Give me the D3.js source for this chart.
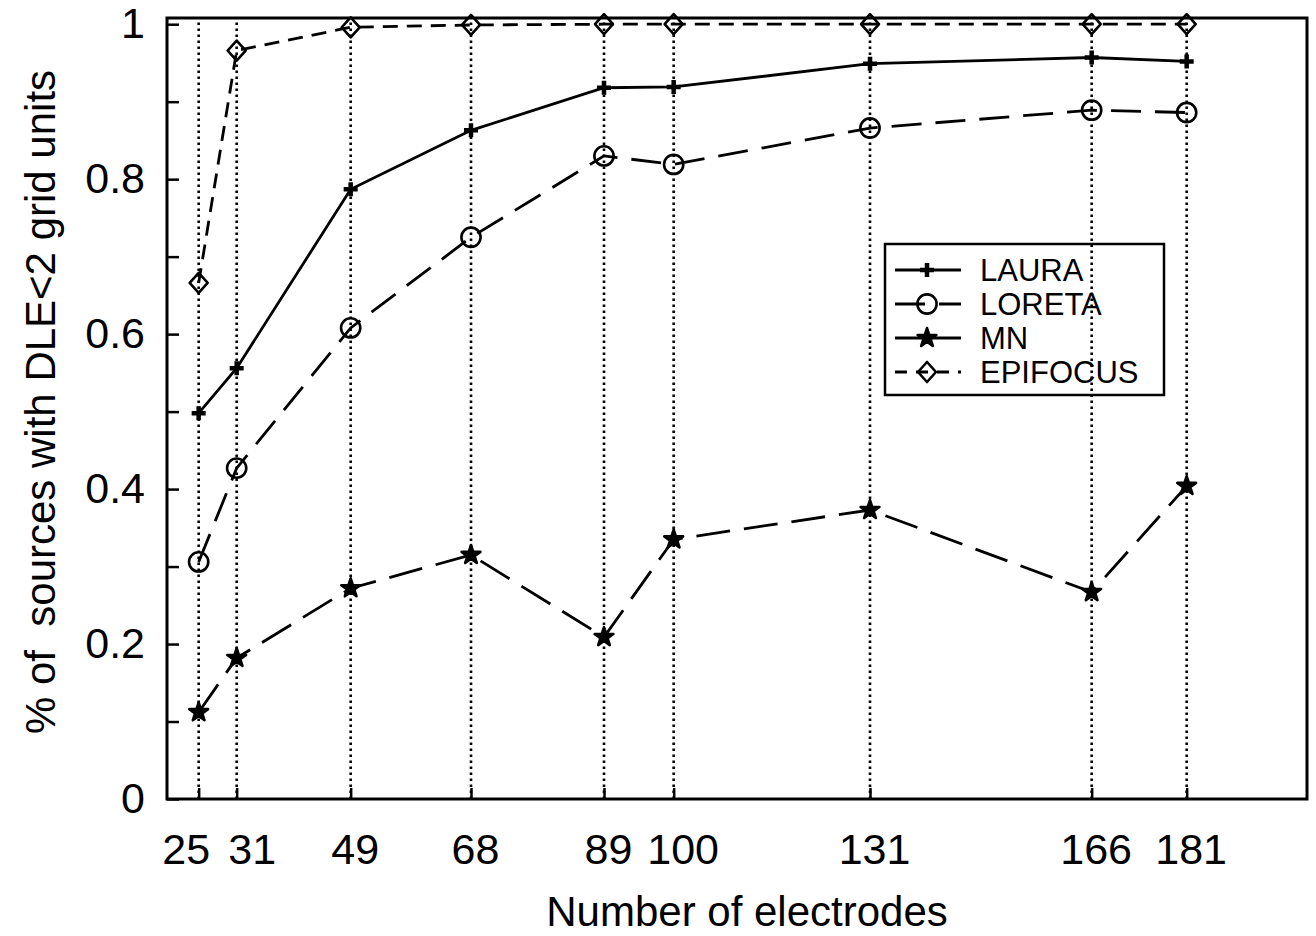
<!DOCTYPE html>
<html>
<head>
<meta charset="utf-8">
<script src="https://cdn.jsdelivr.net/npm/d3@7"></script>
<style>
    body { margin: 0; background: #fff; }
    svg { display: block; font-family: "Liberation Sans", Arial, sans-serif; }
</style>
</head>
<body>
<div id="chart"></div>
<script>
// values
const electrodes = [25, 31, 49, 68, 89, 100, 131, 166, 181];
const laura = [0.498, 0.556, 0.787, 0.863, 0.918, 0.919, 0.949, 0.957, 0.952];
const loreta = [0.306, 0.427, 0.608, 0.725, 0.830, 0.819, 0.866, 0.889, 0.886];
const mn = [0.112, 0.182, 0.272, 0.315, 0.209, 0.335, 0.373, 0.267, 0.404];
const epifocus = [0.666, 0.966, 0.996, 0.999, 1, 1, 1, 1, 1];
const seriesNames = ["LAURA", "LORETA", "MN", "EPIFOCUS"];
const yTickValues = [0, 0.1, 0.2, 0.3, 0.4, 0.5, 0.6, 0.7, 0.8, 0.9, 1];
const yTickLabels = ["0", "", "0.2", "", "0.4", "", "0.6", "", "0.8", "", "1"];

const size = { width: 1316, height: 936 };
const margin = { top: 18, right: 9, bottom: 137, left: 167 };
const width = size.width - margin.left - margin.right;
const height = size.height - margin.top - margin.bottom;

const xScale = d3.scaleLinear().domain([20, 200]).range([0, width]);
const yScale = d3.scaleLinear().domain([0, 1.008]).range([height, 0]);

const styles = {
    LAURA: { dash: null, marker: "plus" },
    LORETA: { dash: "30,14", marker: "circle" },
    MN: { dash: "34,14", marker: "star" },
    EPIFOCUS: { dash: "15,9", marker: "diamond" }
};
const values = { LAURA: laura, LORETA: loreta, MN: mn, EPIFOCUS: epifocus };

const svg = d3.select("#chart")
    .append("svg")
    .attr("width", size.width)
    .attr("height", size.height);

const g = svg.append("g")
    .attr("transform", `translate(${margin.left}, ${margin.top})`);

// dotted verticals at each electrode count
g.selectAll(".vline")
    .data(electrodes)
    .join("line")
    .attr("class", "vline")
    .attr("x1", (d) => xScale(d))
    .attr("x2", (d) => xScale(d))
    .attr("y1", yScale(0))
    .attr("y2", 0)
    .attr("stroke", "#000")
    .attr("stroke-width", 2.6)
    .attr("stroke-dasharray", "2.6,3.4");

// axes, ticks pointing inward
const xAxis = d3.axisBottom(xScale)
    .tickValues(electrodes)
    .tickSizeInner(-11)
    .tickSizeOuter(0)
    .tickPadding(34)
    .tickFormat(d3.format("d"));

const yAxis = d3.axisLeft(yScale)
    .tickValues(yTickValues)
    .tickSizeInner(-12)
    .tickSizeOuter(0)
    .tickPadding(22)
    .tickFormat((d, i) => yTickLabels[i]);

const xg = g.append("g")
    .attr("class", "x-axis")
    .attr("transform", `translate(0, ${height})`)
    .call(xAxis);

const yg = g.append("g")
    .attr("class", "y-axis")
    .call(yAxis);

[xg, yg].forEach((ax) => {
    ax.select(".domain").remove();
    ax.selectAll(".tick line").attr("stroke", "#000").attr("stroke-width", 2.5);
    ax.selectAll(".tick text")
        .attr("fill", "#000")
        .style("font-size", "43px");
});

// crowded labels at the left are pushed apart, the rest sit a touch right
xg.selectAll(".tick text")
    .attr("dx", (d) => d === 25 ? -13 : d === 31 ? 15 : d === 100 ? 9 : 4);

// frame
g.append("rect")
    .attr("x", 0)
    .attr("y", 0)
    .attr("width", width)
    .attr("height", height)
    .attr("fill", "none")
    .attr("stroke", "#000")
    .attr("stroke-width", 3);

const markerPath = function (type) {
    if (type === "star") return d3.symbol(d3.symbolStar, 110)();
    if (type === "plus") return "M-7,0H7M0,-7V7";
    if (type === "diamond") return "M0,-10L9,0L0,10L-9,0Z";
    return d3.symbol(d3.symbolCircle, 290)();
};

const drawMarker = function (sel, type) {
    sel.append("path")
        .attr("d", markerPath(type))
        .attr("fill", type === "star" ? "#000" : "none")
        .attr("stroke", "#000")
        .attr("stroke-width", type === "plus" ? 4.5 : 2.6)
        .attr("stroke-linejoin", "round");
};

const lineGenerator = d3.line()
    .x((d) => xScale(d[0]))
    .y((d) => yScale(d[1]));

seriesNames.forEach((name) => {
    const pts = electrodes.map((e, i) => [e, values[name][i]]);
    g.append("path")
        .attr("class", "line-path")
        .attr("d", lineGenerator(pts))
        .attr("fill", "none")
        .attr("stroke", "#000")
        .attr("stroke-width", 2.8)
        .attr("stroke-dasharray", styles[name].dash);

    g.selectAll(`.pt-${name}`)
        .data(pts)
        .join("g")
        .attr("class", `pt-${name}`)
        .attr("transform", (d) => `translate(${xScale(d[0])}, ${yScale(d[1])})`)
        .each(function () { drawMarker(d3.select(this), styles[name].marker); });
});

// legend
const legend = svg.append("g")
    .attr("transform", "translate(885, 244)");

legend.append("rect")
    .attr("width", 279)
    .attr("height", 151)
    .attr("fill", "none")
    .attr("stroke", "#000")
    .attr("stroke-width", 2.5);

const items = legend.selectAll(".legend")
    .data(seriesNames)
    .join("g")
    .attr("class", "legend")
    .attr("transform", (d, i) => `translate(0, ${26 + i * 34})`);

items.append("line")
    .attr("x1", 10)
    .attr("x2", 76)
    .attr("stroke", "#000")
    .attr("stroke-width", 2.8)
    .attr("stroke-dasharray", (d) => d === "LAURA" || d === "MN" ? null : (d === "LORETA" ? "30,14" : "12,9"));

items.each(function (d) {
    const m = d3.select(this).append("g").attr("transform", "translate(42, 0)");
    drawMarker(m, styles[d].marker);
});

items.append("text")
    .attr("x", 95)
    .attr("y", 11)
    .style("font-size", "31px")
    .text((d) => d);

// axis titles
svg.append("text")
    .attr("x", 747)
    .attr("y", 926)
    .style("text-anchor", "middle")
    .style("font-size", "42px")
    .text("Number of electrodes");

svg.append("text")
    .attr("transform", "translate(55, 402) rotate(-90)")
    .style("text-anchor", "middle")
    .style("font-size", "42px")
    .style("white-space", "pre")
    .attr("xml:space", "preserve")
    .text("% of  sources with DLE<2 grid units");
</script>
</body>
</html>
